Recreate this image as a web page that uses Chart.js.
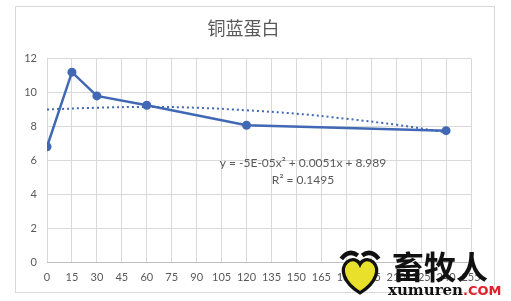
<!DOCTYPE html>
<html>
<head>
<meta charset="utf-8">
<script src="https://cdn.jsdelivr.net/npm/chart.js@4/dist/chart.umd.min.js"></script>
<style>
  html, body { margin: 0; padding: 0; background: #fff; }
  body { width: 511px; height: 301px; position: relative; overflow: hidden; }
  #box { position: absolute; left: 15px; top: 6px; width: 478px; height: 285px; border: 1px solid #d9d9d9; }
  #box canvas { display: block; }
  #wm1 { position: absolute; left: 392px; top: 246px; font: bold 32px/38px "Noto Sans CJK SC"; color: #111; }
  #wm2 { position: absolute; left: 388px; top: 282px; font: bold 15px/16px "DejaVu Serif"; color: #111; }
  #wm2 span { color: #e0202a; font-family: "DejaVu Sans"; font-size: 13px; }
  #heart { position: absolute; left: 338px; top: 248px; width: 44px; height: 48px; }
</style>
</head>
<body>
<div id="box"><canvas id="chart" width="478" height="285"></canvas></div>
<svg id="heart" viewBox="0 0 40 42">
  <path d="M3 9 Q10 0 18 6" stroke="#111" stroke-width="4" fill="none"/>
  <path d="M22 6 Q30 0 37 9" stroke="#111" stroke-width="4" fill="none"/>
  <path d="M20 40 C4 30 2 18 8 12 C13 8 18 10 20 14 C22 10 27 8 32 12 C38 18 36 30 20 40 Z" fill="#e8e02a" stroke="#111" stroke-width="3"/>
</svg>
<div id="wm1">畜牧人</div>
<div id="wm2">xumuren<span>.COM</span></div>
<script>
// 铜蓝蛋白 data
const timePoints = [0, 15, 30, 60, 120, 240];
const ceruloplasmin = [6.8, 11.2, 9.8, 9.25, 8.07, 7.75];

// polynomial trendline
const trendX = [0, 30, 60, 90, 120, 150, 180, 210, 240];
const trendY = [9.0, 9.1, 9.15, 9.1, 8.95, 8.75, 8.45, 8.1, 7.65];

const xTicks = [0, 15, 30, 45, 60, 75, 90, 105, 120, 135, 150, 165, 180, 195, 210, 225, 240, 255];
const yTicks = [0, 2, 4, 6, 8, 10, 12];

const titleText = '铜蓝蛋白';
const equationText = 'y = -5E-05x² + 0.0051x + 8.989';
const r2Text = 'R² = 0.1495';

const blue = '#4068b4';
const gray = '#595959';
const grid = '#d9d9d9';

const equationLabel = {
  id: 'equationLabel',
  afterDatasetsDraw(chart) {
    const { ctx, chartArea } = chart;
    const cx = chartArea.left + 256;
    const cy = chartArea.top + 105;
    ctx.save();
    ctx.fillStyle = gray;
    ctx.font = '12px Lato, "Liberation Sans"';
    ctx.textAlign = 'center';
    ctx.textBaseline = 'middle';
    ctx.fillText(equationText, cx, cy);
    ctx.fillText(r2Text, cx, cy + 17);
    ctx.restore();
  }
};

new Chart(document.getElementById('chart'), {
  type: 'scatter',
  data: {
    datasets: [
      {
        label: 'trend',
        data: trendX.map((x, i) => ({ x, y: trendY[i] })),
        showLine: true,
        borderColor: blue,
        borderWidth: 2,
        borderDash: [2, 3],
        pointRadius: 0,
        tension: 0.4,
        fill: false
      },
      {
        label: titleText,
        data: timePoints.map((x, i) => ({ x, y: ceruloplasmin[i] })),
        showLine: true,
        borderColor: blue,
        backgroundColor: blue,
        borderWidth: 2.5,
        pointRadius: 4.5,
        pointBorderWidth: 0,
        tension: 0
      }
    ]
  },
  options: {
    responsive: false,
    animation: false,
    events: [],
    layout: { padding: { left: 0, right: 23, top: 0, bottom: 0 } },
    plugins: {
      legend: { display: false },
      tooltip: { enabled: false },
      title: {
        display: true,
        text: titleText,
        color: gray,
        font: { family: '"Noto Sans CJK SC"', size: 18, weight: 'normal' },
        padding: { top: 10, bottom: 20 }
      }
    },
    scales: {
      x: {
        type: 'linear',
        min: 0,
        max: 255,
        afterBuildTicks: (scale) => { scale.ticks = xTicks.map(v => ({ value: v })); },
        afterFit: (scale) => { scale.height = 30; },
        grid: { color: grid, drawTicks: false },
        border: { color: '#bfbfbf' },
        ticks: {
          color: gray,
          font: { family: 'Lato, "Liberation Sans"', size: 11 },
          maxRotation: 0,
          autoSkip: false,
          padding: 9
        }
      },
      y: {
        min: 0,
        max: 12,
        afterBuildTicks: (scale) => { scale.ticks = yTicks.map(v => ({ value: v })); },
        afterFit: (scale) => { scale.width = 31; },
        grid: { color: grid, drawTicks: false },
        border: { display: false },
        ticks: {
          color: gray,
          font: { family: 'Lato, "Liberation Sans"', size: 11 },
          padding: 10
        }
      }
    }
  },
  plugins: [equationLabel]
});
</script>
</body>
</html>
